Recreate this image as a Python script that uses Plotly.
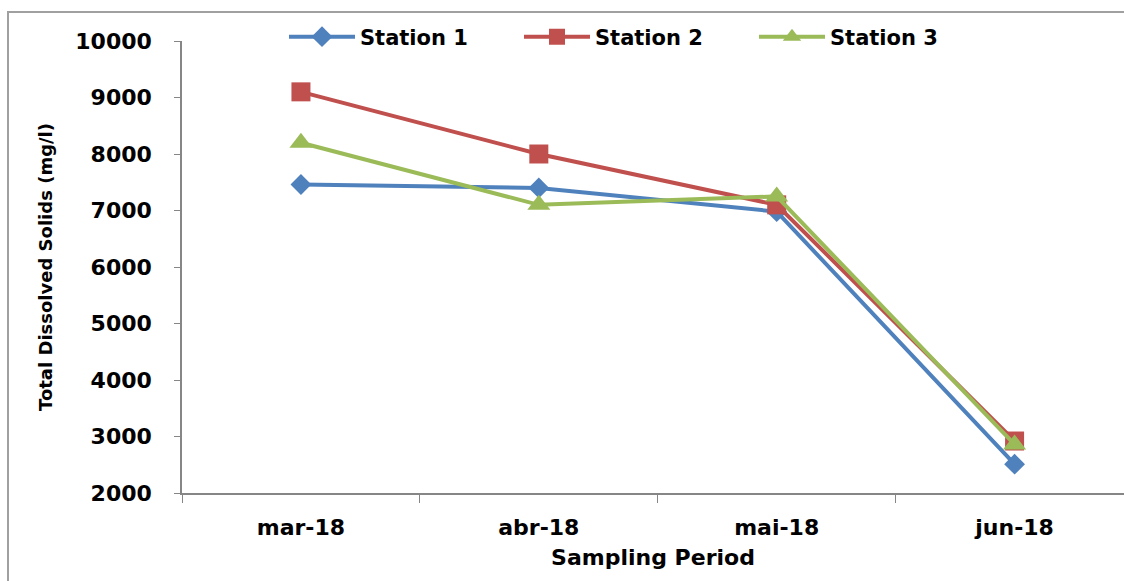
import plotly.graph_objects as go

# Sampling months (Spanish/Portuguese abbreviations)
periods = ["mar-18", "abr-18", "mai-18", "jun-18"]

# Total dissolved solids (mg/l) per station
station_1 = [7460, 7400, 6980, 2510]
station_2 = [9100, 8000, 7100, 2920]
station_3 = [8200, 7100, 7250, 2860]

y_ticks = [2000, 3000, 4000, 5000, 6000, 7000, 8000, 9000, 10000]

FONT = "DejaVu Sans"
AXIS_GREY = "#868686"

series = [
    ("Station 1", station_1, "#4F81BD", "diamond", 16),
    ("Station 2", station_2, "#C0504D", "square", 19),
    ("Station 3", station_3, "#9BBB59", "triangle-up", 20),
]

fig = go.Figure()
for name, values, color, symbol, size in series:
    fig.add_trace(go.Scatter(
        x=periods,
        y=values,
        name=name,
        mode="lines+markers",
        line=dict(color=color, width=4),
        marker=dict(symbol=symbol, size=size, color=color, line=dict(width=0)),
    ))

W, H = 1124, 581
L, R, T, B = 182, 0, 41, 88
pw, ph = W - L - R, H - T - B

def px_x(p):
    return (p - L) / pw

def px_y(p):
    return (H - B - p) / ph

# outer chart frame (top and left edges)
fig.add_shape(
    type="path",
    xref="paper", yref="paper",
    path=f"M {px_x(8)} {px_y(590)} L {px_x(8)} {px_y(12)} L {px_x(1130)} {px_y(12)}",
    line=dict(color="#A0A0A0", width=2),
)

fig.update_layout(
    width=W, height=H,
    margin=dict(l=L, r=R, t=T, b=B),
    plot_bgcolor="white",
    paper_bgcolor="white",
    font=dict(family=FONT, color="black"),
    showlegend=True,
    legend=dict(
        orientation="h",
        x=px_x(284), xanchor="left",
        y=px_y(37), yanchor="middle",
        font=dict(family=FONT, size=21, color="black", weight="bold"),
        entrywidth=154, entrywidthmode="pixels",
        itemwidth=66,
        bgcolor="rgba(0,0,0,0)",
    ),
    xaxis=dict(
        type="category",
        range=[-0.5, 3.46],
        showline=True, linecolor=AXIS_GREY, linewidth=1.5,
        ticks="outside", tickson="boundaries", ticklen=8, tickcolor=AXIS_GREY,
        ticklabelstandoff=14,
        showgrid=False, zeroline=False,
        tickfont=dict(family=FONT, size=22, color="black", weight="bold"),
        title=dict(text="Sampling Period", standoff=10,
                   font=dict(family=FONT, size=22, color="black", weight="bold")),
    ),
    yaxis=dict(
        range=[2000, 10000],
        tickvals=y_ticks,
        tickformat="d",
        showline=True, linecolor=AXIS_GREY, linewidth=1.5,
        ticks="outside", ticklen=6, tickcolor=AXIS_GREY,
        ticklabelstandoff=18,
        showgrid=False, zeroline=False,
        tickfont=dict(family=FONT, size=22, color="black", weight="bold"),
        title=dict(text="Total Dissolved Solids (mg/l)", standoff=18,
                   font=dict(family=FONT, size=18, color="black", weight="bold")),
    ),
)

fig.write_html("out.html")
